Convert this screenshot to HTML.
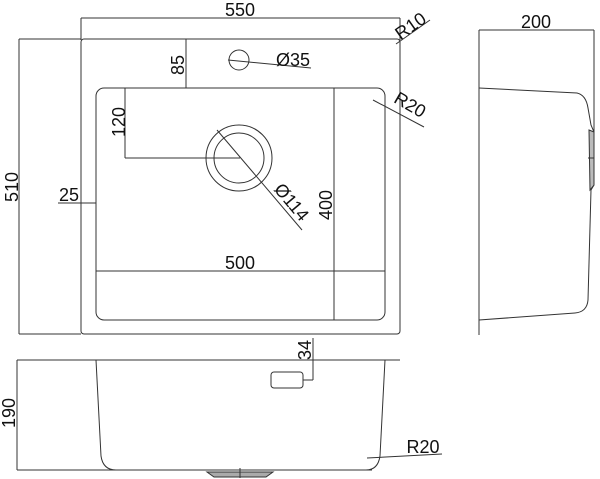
<!DOCTYPE html>
<html><head><style>html,body{margin:0;padding:0;background:#fff;}svg{display:block}</style></head>
<body>
<svg width="600" height="479" viewBox="0 0 600 479" xmlns="http://www.w3.org/2000/svg" font-family="Liberation Sans, sans-serif" font-size="18" fill="none" stroke="#333" stroke-width="1">
<!-- top view -->
<line x1="81" y1="18" x2="400" y2="18"/>
<line x1="81" y1="18" x2="81" y2="40"/>
<line x1="400" y1="18" x2="400" y2="40"/>
<rect x="81" y="39" width="319" height="295" rx="3"/>
<line x1="19" y1="39" x2="81" y2="39"/>
<line x1="19" y1="334" x2="81" y2="334"/>
<line x1="19" y1="39" x2="19" y2="334"/>
<rect x="96" y="88" width="289" height="232" rx="8"/>
<line x1="186" y1="39" x2="186" y2="88"/>
<circle cx="239" cy="60" r="10"/>
<line x1="228" y1="60" x2="311" y2="68"/>
<line x1="396" y1="44" x2="430" y2="20"/>
<line x1="373" y1="100" x2="424" y2="127"/>
<line x1="125" y1="88" x2="125" y2="158"/>
<line x1="125" y1="158" x2="240" y2="158"/>
<circle cx="239" cy="158" r="33"/>
<circle cx="239" cy="158" r="25"/>
<line x1="217" y1="130" x2="302" y2="230"/>
<line x1="334" y1="88" x2="334" y2="320"/>
<line x1="96" y1="271" x2="385" y2="271"/>
<line x1="58" y1="203" x2="96" y2="203"/>
<!-- front view -->
<line x1="17" y1="360" x2="400" y2="360"/>
<line x1="17" y1="360" x2="17" y2="470"/>
<line x1="17" y1="470" x2="372" y2="470"/>
<path d="M96 360 L101 456 Q103 470 116 470 M385 360 L380 456 Q378 470 366 470"/>
<path d="M207 472 L273 472 L266 477 L214 477 Z" fill="#aaa"/>
<line x1="240" y1="468" x2="240" y2="478"/>
<rect x="271" y="372" width="32" height="16" rx="3"/>
<line x1="313" y1="338" x2="313" y2="380"/>
<line x1="303" y1="380" x2="313" y2="380"/>
<line x1="367" y1="458" x2="442" y2="454"/>
<!-- side view -->
<line x1="479" y1="30" x2="594" y2="30"/>
<line x1="479" y1="30" x2="479" y2="335"/>
<line x1="594" y1="30" x2="594" y2="132"/>
<path d="M479 88 L577 93 Q586 95 588 108 L591 125 L594 132 L594 185 L591 190 L588 300 Q587 312 575 313 L479 320"/>
<path d="M589 130 L594 132 L594 185 L590 190 Z" fill="#bbb"/>
<line x1="588" y1="158" x2="594" y2="158"/>
<g fill="#111" stroke="none">
<text x="240" y="16" text-anchor="middle">550</text>
<text x="536" y="28" text-anchor="middle">200</text>
<text transform="translate(18,187) rotate(-90)" text-anchor="middle">510</text>
<text transform="translate(184,65) rotate(-90)" text-anchor="middle">85</text>
<text x="293" y="66" text-anchor="middle">Ø35</text>
<text transform="translate(414,31) rotate(-35)" text-anchor="middle">R10</text>
<text transform="translate(407,110) rotate(30)" text-anchor="middle">R20</text>
<text transform="translate(125,122) rotate(-90)" text-anchor="middle">120</text>
<text transform="translate(287,206) rotate(50)" text-anchor="middle">Ø114</text>
<text transform="translate(332,205) rotate(-90)" text-anchor="middle">400</text>
<text x="240" y="269" text-anchor="middle">500</text>
<text x="69" y="201" text-anchor="middle">25</text>
<text transform="translate(311,350) rotate(-90)" text-anchor="middle">34</text>
<text transform="translate(15,413) rotate(-90)" text-anchor="middle">190</text>
<text x="423" y="453" text-anchor="middle">R20</text>
</g>
</svg>
</body></html>
